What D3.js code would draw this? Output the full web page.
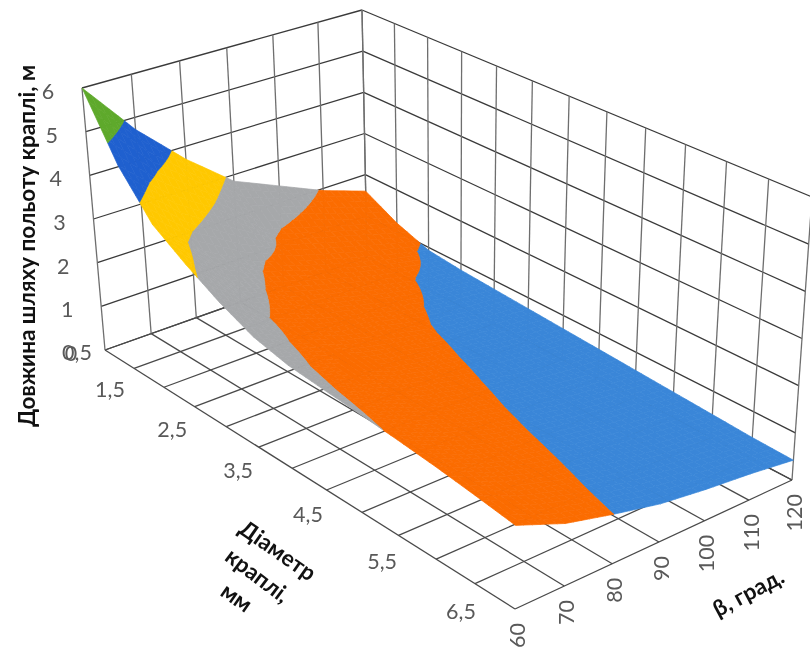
<!DOCTYPE html>
<html><head><meta charset="utf-8">
<script src="https://cdn.jsdelivr.net/npm/d3@7/dist/d3.min.js"></script>
<style>html,body{margin:0;padding:0;background:#fff}svg{display:block;filter:blur(0.45px)}</style>
</head><body><svg id="c" width="810" height="648"></svg>
<script>
const diameters=[0.5,1,1.5,2,2.5,3,3.5,4,4.5,5,5.5,6,6.5];
const betas=[60,70,80,90,100,110,120];
const zTicks=[0,1,2,3,4,5,6];
const dLabels=[0.5,1.5,2.5,3.5,4.5,5.5,6.5];
const beta60=[6,4.6,3.65,3.15,2.72,2.38,2.2,2.12,2.05,1.97,1.88,1.77,1.65];
const beta70=[4.72,3.6,2.7,2.3,2.0,1.85,1.75,1.66,1.6,1.52,1.43,1.34,1.25];
const beta80=[3.7,2.9,2.1,1.8,1.6,1.45,1.36,1.29,1.23,1.17,1.11,1.05,1.0];
const beta90=[2.85,2.1,1.75,1.5,1.35,1.22,1.13,1.06,1.0,0.94,0.89,0.84,0.78];
const beta100=[2.4,1.8,1.45,1.22,1.06,0.97,0.91,0.86,0.81,0.77,0.73,0.69,0.65];
const beta110=[1.95,1.5,1.18,0.98,0.89,0.82,0.77,0.73,0.69,0.65,0.62,0.58,0.55];
const beta120=[1.6,1.2,0.93,0.85,0.8,0.75,0.7,0.65,0.6,0.55,0.5,0.45,0.42];
const series=[beta60,beta70,beta80,beta90,beta100,beta110,beta120];
const bandColors=["#3a86d8","#fb6c00","#a6a8aa","#ffc800","#1f60cf","#5ea92b"];

const svg=d3.select("#c");
const F="Lato, Carlito, 'Open Sans', sans-serif";

function homography(q){
  const [a,b,c,d]=q;
  const dx1=b[0]-c[0],dx2=d[0]-c[0],sx=a[0]-b[0]+c[0]-d[0];
  const dy1=b[1]-c[1],dy2=d[1]-c[1],sy=a[1]-b[1]+c[1]-d[1];
  const det=dx1*dy2-dx2*dy1;
  const g=(sx*dy2-dx2*sy)/det,h=(dx1*sy-sx*dy1)/det;
  const A=b[0]-a[0]+g*b[0],B=d[0]-a[0]+h*d[0],C=a[0];
  const D=b[1]-a[1]+g*b[1],E=d[1]-a[1]+h*d[1],Ff=a[1];
  return (u,v)=>{const w=g*u+h*v+1;return [(A*u+B*v+C)/w,(D*u+E*v+Ff)/w];};
}
const floor=homography([[105,350],[515,609],[792,480],[367,257]]);
const ceil=homography([[82,88],[517,305],[812,197],[362,10]]);
const u=d3.scaleLinear().domain([0.5,6.5]).range([0,1]);
const v=d3.scaleLinear().domain([60,120]).range([0,1]);
const h=d3.scaleLinear().domain([0,6]).range([0,1]);
function P(d,b,z){
  const f=floor(u(d),v(b)),c=ceil(u(d),v(b)),t=h(z);
  return [f[0]+(c[0]-f[0])*t,f[1]+(c[1]-f[1])*t];
}
const line=d3.line();
const grid=svg.append("g").attr("fill","none").attr("stroke","#6e6e6e").attr("stroke-width",1.3);
function seg(a,b,col){grid.append("path").attr("d",line([a,b])).attr("stroke",col||"#6e6e6e");}
const dk="#3a3a3a";
zTicks.forEach(z=>{
  seg(P(.5,60,z),P(.5,120,z),dk);
  seg(P(.5,120,z),P(6.5,120,z),dk);
});
diameters.forEach(d=>{
  seg(P(d,120,0),P(d,120,6));
  seg(P(d,60,0),P(d,120,0),"#4a4a4a");
});
betas.forEach(b=>{
  seg(P(.5,b,0),P(.5,b,6));
  seg(P(.5,b,0),P(6.5,b,0),"#4a4a4a");
});

const surf=svg.append("g");
const SUB=6;
function clip(poly,level,keepAbove){
  const out=[];
  for(let i=0;i<poly.length;i++){
    const a=poly[i],b=poly[(i+1)%poly.length];
    const ia=keepAbove?a[2]>=level:a[2]<=level, ib=keepAbove?b[2]>=level:b[2]<=level;
    if(ia) out.push(a);
    if(ia!==ib){
      const t=(level-a[2])/(b[2]-a[2]);
      out.push([a[0]+(b[0]-a[0])*t,a[1]+(b[1]-a[1])*t,level]);
    }
  }
  return out;
}
for(let i=0;i<diameters.length-1;i++){
  for(let j=betas.length-2;j>=0;j--){
    const z00=series[j][i],z10=series[j][i+1],z01=series[j+1][i],z11=series[j+1][i+1];
    const zAt=(s,t)=>z00*(1-s)*(1-t)+z10*s*(1-t)+z01*(1-s)*t+z11*s*t;
    const vert=(s,t)=>[diameters[i]+(diameters[i+1]-diameters[i])*s,betas[j]+(betas[j+1]-betas[j])*t,zAt(s,t)];
    for(let a=0;a<SUB;a++)for(let b=SUB-1;b>=0;b--){
      const q=[vert(a/SUB,b/SUB),vert((a+1)/SUB,b/SUB),vert((a+1)/SUB,(b+1)/SUB),vert(a/SUB,(b+1)/SUB)];
      bandColors.forEach((col,k)=>{
        let poly=clip(q,k,true);
        if(poly.length) poly=clip(poly,k+1,false);
        if(poly.length<3) return;
        const pts=poly.map(p=>P(p[0],p[1],p[2]));
        surf.append("path").attr("d",line(pts)+"Z").attr("fill",col).attr("stroke",col).attr("stroke-width",0.7);
      });
    }
  }
}

const lab=svg.append("g").attr("font-family",F).attr("font-size",21.5).attr("fill","#595959");
zTicks.forEach(z=>{
  const p=P(.5,60,z);
  lab.append("text").attr("x",p[0]-34).attr("y",p[1]+3).attr("text-anchor","middle").attr("dominant-baseline","central").text(z);
});
dLabels.forEach(d=>{
  const p=P(d,60,0);
  const dx=d===0.5?-28:-54;
  lab.append("text").attr("x",p[0]+dx).attr("y",p[1]+2).attr("text-anchor","middle").attr("dominant-baseline","central").text(String(d).replace(".",","));
});
betas.forEach(b=>{
  const p=P(6.5,b,0);
  lab.append("text").attr("transform",`translate(${p[0]+2},${p[1]+14}) rotate(-90)`).attr("text-anchor","end").attr("dominant-baseline","central").text(b);
});

const tit=svg.append("g").attr("font-family",F).attr("font-weight",700).attr("font-size",22.5).attr("fill","#111");
tit.append("text").attr("transform","translate(26,246) rotate(-90)").attr("text-anchor","middle").attr("dominant-baseline","central").text("Довжина шляху польоту краплі, м");
tit.append("text").attr("transform","translate(278,550) rotate(35)").attr("text-anchor","middle").attr("dominant-baseline","central").text("Діаметр");
tit.append("text").attr("transform","translate(258,575) rotate(37)").attr("text-anchor","middle").attr("dominant-baseline","central").text("краплі,");
tit.append("text").attr("transform","translate(237,597) rotate(35)").attr("text-anchor","middle").attr("dominant-baseline","central").text("мм");
tit.append("text").attr("transform","translate(748,592) rotate(-28)").attr("text-anchor","middle").attr("dominant-baseline","central").text("β, град.");
</script></body></html>
